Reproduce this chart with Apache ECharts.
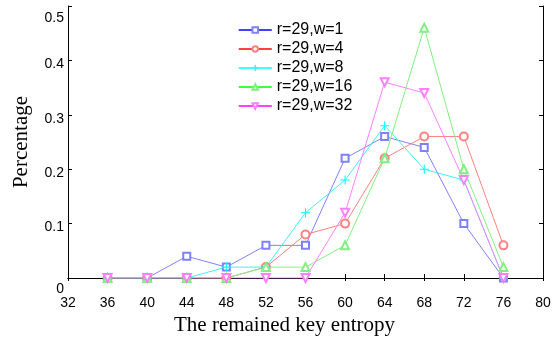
<!DOCTYPE html>
<html>
<head>
<meta charset="utf-8">
<script src="https://cdn.jsdelivr.net/npm/echarts@6/dist/echarts.min.js"></script>
<style>
  html, body { margin: 0; padding: 0; background: #fff; }
  #chart { width: 559px; height: 341px; }
</style>
</head>
<body>
<div id="chart"></div>
<script>
// entropy values on the x axis
const entropy = [36, 40, 44, 48, 52, 56, 60, 64, 68, 72, 76];

// percentages
const w1 = [0, 0, 0.04, 0.02, 0.06, 0.06, 0.22, 0.26, 0.24, 0.10, 0];
const w4 = [0, 0, 0, 0, 0.02, 0.08, 0.10, 0.22, 0.26, 0.26, 0.06];
const w8 = [0, 0, 0, 0.02, 0.02, 0.12, 0.18, 0.28, 0.20, 0.18, 0];
const w16 = [0, 0, 0, 0, 0.02, 0.02, 0.06, 0.22, 0.46, 0.20, 0.02];
const w32 = [0, 0, 0, 0, 0, 0, 0.12, 0.36, 0.34, 0.18, 0];

const seriesNames = ['r=29,w=1', 'r=29,w=4', 'r=29,w=8', 'r=29,w=16', 'r=29,w=32'];

const plusPath = 'path://M4.4,0H5.6V4.4H10V5.6H5.6V10H4.4V5.6H0V4.4H4.4Z';

const chart = echarts.init(document.getElementById('chart'));

function pts(arr) {
    return entropy.map((x, i) => [x, arr[i]]);
}

// styles per series: light line + marker, strong colour for the legend line
const styles = [
    { data: w1, light: '#8080ff', strong: '#0000ff', symbol: 'emptyRect', size: 7, rotate: 0 },
    { data: w4, light: '#ff8080', strong: '#ff0000', symbol: 'emptyCircle', size: 8, rotate: 0 },
    { data: w8, light: '#40f0f8', strong: '#00ffff', symbol: plusPath, size: 9, rotate: 0 },
    { data: w16, light: '#80f080', strong: '#00ff00', symbol: 'emptyTriangle', size: 8, rotate: 0 },
    { data: w32, light: '#ff80ff', strong: '#ff00ff', symbol: 'emptyTriangle', size: 8, rotate: 180 }
];

const axisFont = { fontFamily: 'Liberation Sans, Arial', fontSize: 14, color: '#000' };

let option = {
    animation: false,
    backgroundColor: '#fff',
    grid: {
        left: 68,
        right: 16,
        top: 6,
        bottom: 62,
        containLabel: false
    },
    legend: {
        orient: 'vertical',
        left: 238,
        top: 22,
        padding: 0,
        itemWidth: 33,
        itemHeight: 7,
        itemGap: 3,
        textStyle: {
            fontFamily: 'Liberation Sans, Arial',
            fontSize: 16,
            color: '#000',
            lineHeight: 16
        },
        data: styles.map((s, i) => ({
            name: seriesNames[i],
            lineStyle: { color: s.strong, width: 1.5 },
            itemStyle: { color: s.light, borderColor: s.light, borderWidth: 1 }
        }))
    },
    xAxis: [
        {
            type: 'value',
            min: 32,
            max: 80,
            interval: 4,
            name: 'The remained key entropy',
            nameLocation: 'middle',
            nameGap: 37,
            nameTextStyle: {
                fontFamily: 'Liberation Serif, Times New Roman',
                fontSize: 21,
                color: '#000',
                padding: [0, 42, 0, 0]
            },
            axisLine: { lineStyle: { color: '#000', width: 1 } },
            axisTick: { inside: true, length: 4, lineStyle: { color: '#000' } },
            axisLabel: Object.assign({ margin: 18 }, axisFont),
            splitLine: { show: false }
        },
        {
            type: 'value',
            position: 'top',
            min: 32,
            max: 80,
            interval: 4,
            axisLine: { show: true, lineStyle: { color: '#000', width: 1 } },
            axisTick: { inside: true, length: 3, lineStyle: { color: '#000' } },
            axisLabel: { show: false },
            splitLine: { show: false }
        }
    ],
    yAxis: [
        {
            type: 'value',
            min: 0,
            max: 0.5,
            interval: 0.1,
            name: 'Percentage',
            nameLocation: 'middle',
            nameGap: 36,
            nameTextStyle: {
                fontFamily: 'Liberation Serif, Times New Roman',
                fontSize: 21,
                color: '#000'
            },
            axisLine: { show: true, lineStyle: { color: '#000', width: 1 } },
            axisTick: { inside: true, length: 4, lineStyle: { color: '#000' } },
            axisLabel: Object.assign({
                margin: 4,
                formatter: function (v) {
                    if (v === 0) return '{z|0}';
                    if (Math.abs(v - 0.5) < 1e-9) return '{t|0.5}';
                    return '{n|' + v.toFixed(1) + '}';
                },
                rich: {
                    z: { fontFamily: 'Liberation Sans, Arial', fontSize: 14, color: '#000', padding: [22, 0, 0, 0] },
                    t: { fontFamily: 'Liberation Sans, Arial', fontSize: 14, color: '#000', padding: [24, 0, 0, 0] },
                    n: { fontFamily: 'Liberation Sans, Arial', fontSize: 14, color: '#000', padding: [8, 0, 0, 0] }
                }
            }, axisFont),
            splitLine: { show: false }
        },
        {
            type: 'value',
            position: 'right',
            min: 0,
            max: 0.5,
            interval: 0.1,
            axisLine: { show: true, lineStyle: { color: '#000', width: 1 } },
            axisTick: { inside: true, length: 4, lineStyle: { color: '#000' } },
            axisLabel: { show: false },
            splitLine: { show: false }
        }
    ],
    series: styles.map((s, i) => ({
        name: seriesNames[i],
        type: 'line',
        data: pts(s.data),
        symbol: s.symbol,
        symbolSize: s.size,
        symbolRotate: s.rotate,
        showAllSymbol: true,
        lineStyle: { color: s.light, width: 1 },
        itemStyle: {
            color: s.symbol === plusPath ? s.strong : s.light,
            borderColor: s.symbol === plusPath ? s.strong : s.light,
            borderWidth: s.symbol === plusPath ? 0 : 1
        },
        emphasis: { disabled: true }
    }))
};

chart.setOption(option);
</script>
</body>
</html>
